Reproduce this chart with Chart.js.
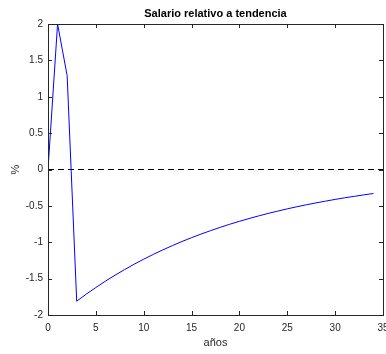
<!DOCTYPE html>
<html>
<head>
<meta charset="utf-8">
<script src="https://cdn.jsdelivr.net/npm/chart.js@4/dist/chart.umd.min.js"></script>
<style>
html,body{margin:0;padding:0;background:#fff;}
#wrap{width:386px;height:354px;}
</style>
</head>
<body>
<div id="wrap"><canvas id="c" width="386" height="354"></canvas></div>
<script>
const years = [0,1,2,3,4,5,6,7,8,9,10,11,12,13,14,15,16,17,18,19,20,21,22,23,24,25,26,27,28,29,30,31,32,33,34];
const salario = [0, 2.0, 1.29, -1.81, -1.713, -1.622, -1.535, -1.453, -1.376, -1.302, -1.233, -1.167, -1.105, -1.046, -0.990, -0.937, -0.887, -0.840, -0.795, -0.752, -0.712, -0.674, -0.638, -0.604, -0.572, -0.541, -0.512, -0.485, -0.459, -0.435, -0.411, -0.389, -0.369, -0.349, -0.330];
const zeroLineX = [0, 35];
const zeroLineY = [0, 0];
const xTicks = [0,5,10,15,20,25,30,35];
const yTicks = [-2,-1.5,-1,-0.5,0,0.5,1,1.5,2];
const titleText = 'Salario relativo a tendencia';
const xLabel = 'años';
const yLabel = '%';

const axisColor = '#262626';
const fontFamily = '"Liberation Sans", Arial, Helvetica, sans-serif';

const insideTicks = {
  id: 'insideTicks',
  afterDatasetsDraw(chart) {
    const {ctx, chartArea: a, scales: {x, y}} = chart;
    const L = 4;
    ctx.save();
    ctx.strokeStyle = axisColor;
    ctx.lineWidth = 1;
    ctx.beginPath();
    xTicks.forEach(v => {
      const px = Math.round(x.getPixelForValue(v)) + 0.5;
      ctx.moveTo(px, a.bottom); ctx.lineTo(px, a.bottom - L);
      ctx.moveTo(px, a.top); ctx.lineTo(px, a.top + L);
    });
    yTicks.forEach(v => {
      const py = Math.round(y.getPixelForValue(v)) + 0.5;
      ctx.moveTo(a.left, py); ctx.lineTo(a.left + L, py);
      ctx.moveTo(a.right, py); ctx.lineTo(a.right - L, py);
    });
    ctx.stroke();
    ctx.strokeRect(Math.round(a.left) + 0.5, Math.round(a.top) + 0.5, Math.round(a.right - a.left), Math.round(a.bottom - a.top));
    ctx.restore();
  }
};

new Chart(document.getElementById('c'), {
  type: 'line',
  data: {
    datasets: [
      {
        data: years.map((t, i) => ({x: t, y: salario[i]})),
        borderColor: '#0000ff',
        borderWidth: 1,
        pointRadius: 0,
        tension: 0,
        fill: false
      },
      {
        data: zeroLineX.map((t, i) => ({x: t, y: zeroLineY[i]})),
        borderColor: '#000000',
        borderWidth: 1,
        borderDash: [6, 4],
        pointRadius: 0,
        fill: false
      }
    ]
  },
  options: {
    responsive: false,
    animation: false,
    devicePixelRatio: 1,
    layout: {padding: {left: 0, right: 3, top: 0, bottom: 0}},
    plugins: {
      legend: {display: false},
      tooltip: {enabled: false},
      title: {
        display: true,
        text: titleText,
        fullSize: false,
        color: '#000',
        font: {family: fontFamily, size: 11, weight: 'bold', lineHeight: 1},
        padding: {top: 8, bottom: 5}
      }
    },
    scales: {
      x: {
        type: 'linear',
        min: 0, max: 35,
        afterBuildTicks: s => { s.ticks = xTicks.map(v => ({value: v})); },
        afterFit: s => { s.height = 39; s.paddingLeft = 0; s.paddingRight = 0; },
        grid: {display: false, drawTicks: false},
        border: {display: false},
        ticks: {color: axisColor, font: {family: fontFamily, size: 10}, padding: 7, maxRotation: 0, autoSkip: false,
                callback: v => String(v)},
        title: {display: true, text: xLabel, color: axisColor, font: {family: fontFamily, size: 11}, padding: {top: 0, bottom: 4}}
      },
      y: {
        type: 'linear',
        min: -2, max: 2,
        afterBuildTicks: s => { s.ticks = yTicks.map(v => ({value: v})); },
        afterFit: s => { s.width = 48; s.paddingTop = 0; s.paddingBottom = 0; },
        grid: {display: false, drawTicks: false},
        border: {display: false},
        ticks: {color: axisColor, font: {family: fontFamily, size: 10}, padding: 5, autoSkip: false,
                callback: v => String(v)},
        title: {display: true, text: yLabel, color: axisColor, font: {family: fontFamily, size: 11}, padding: {top: 9, bottom: 0}}
      }
    }
  },
  plugins: [insideTicks]
});
</script>
</body>
</html>
